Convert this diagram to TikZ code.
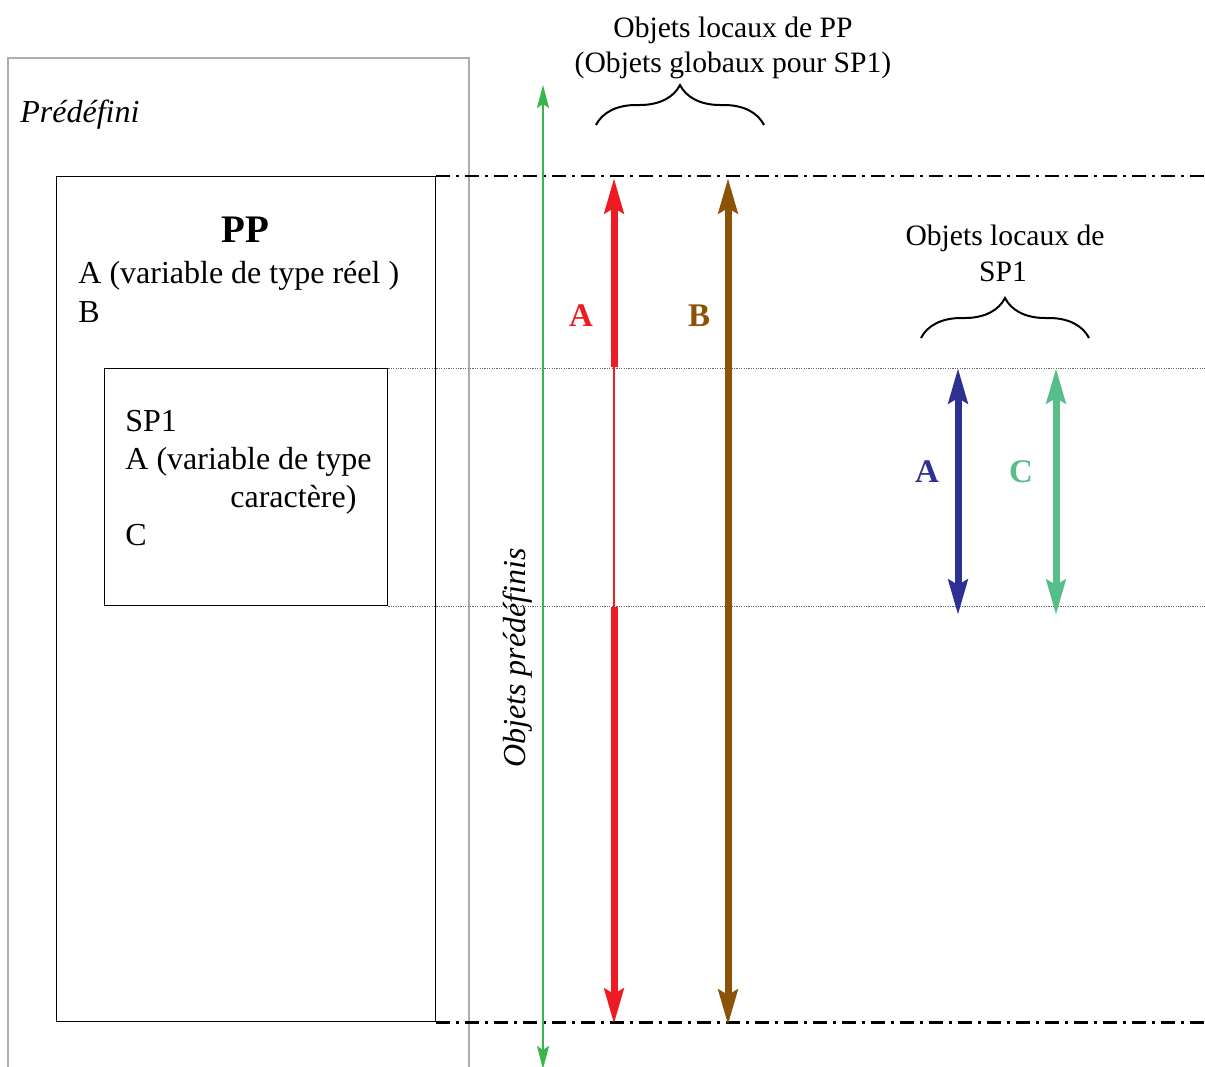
\documentclass[tikz,border=0pt]{standalone}
\usepackage{fontspec}
\setmainfont{Liberation Serif}
\usepackage{xcolor}
\usetikzlibrary{arrows.meta,positioning,calc,decorations.pathreplacing}
\definecolor{predgreen}{RGB}{57,181,74}
\definecolor{ppred}{RGB}{237,28,36}
\definecolor{ppbrown}{RGB}{139,82,8}
\definecolor{spblue}{RGB}{46,49,146}
\definecolor{spgreen}{RGB}{88,190,137}
\newcommand{\txtsize}{\fontsize{16}{19}\selectfont}
\newcommand{\capsize}{\fontsize{14.8}{18}\selectfont}
\newcommand{\lblsize}{\fontsize{16.5}{20}\selectfont}

\begin{document}
\begin{tikzpicture}[
  x=0.5pt, y=-0.5pt,
  predef/.style={draw=black!32, line width=0.8pt},
  box/.style={draw, line width=0.7pt, inner sep=0pt, anchor=north west},
  txt/.style={anchor=base west, inner sep=0pt, font=\txtsize},
  captxt/.style={anchor=base, inner sep=0pt, font=\capsize},
  lbl/.style={inner sep=0pt, font=\lblsize\bfseries},
  scopeline/.style={line width=1.4pt, dash pattern=on 7pt off 3pt on 1.5pt off 3pt},
  limit/.style={draw=black!60, line width=0.5pt, dash pattern=on 0.6pt off 0.6pt},
  brc/.style={decorate, decoration={brace, amplitude=20pt}, line width=1pt},
  objtip/.tip={Stealth[length=17.5pt, width=9.5pt, inset=2.5pt]},
  objarr/.style={line width=3.5pt, -objtip},
  objboth/.style={line width=3.5pt, objtip-objtip},
  predarr/.style={predgreen, line width=1pt,
    {Stealth[length=11.5pt, width=6pt, inset=2pt]}-{Stealth[length=11.5pt, width=6pt, inset=2pt]}}
]
\useasboundingbox (0,0) rectangle (1205,1066);

% predefined area
\draw[predef] (8,1075) |- (469,58) -- (469,1075);
\node[txt, font=\txtsize\itshape] (predtitle) at (20,122) {Prédéfini};

% program boxes
\node[box, minimum width=189.5pt, minimum height=422.5pt] (pp) at (56,176) {};
\node[box, minimum width=141.5pt, minimum height=118.5pt] (sp1) at (104,368) {};

\node[inner sep=0pt, font=\fontsize{19.5}{23}\selectfont\bfseries] (ppname) at (245,230) {PP};
\node[txt] (ppa) at (78,283) {A (variable de type réel )};
\node[txt] (ppb) at (78,322) {B};

\node[txt] (spname) at (125,431) {SP1};
\node[txt] (spa) at (125,469) {A (variable de type};
\node[txt] (spa2) at (230,507) {caractère)};
\node[txt] (spc) at (125,545) {C};

% limits
\coordinate (edge) at (1205,0);
\draw[scopeline] (pp.north east) -- (pp.north east -| edge);
\draw[scopeline] (pp.south east) -- (pp.south east -| edge);
\draw[limit] (sp1.north east) -- (sp1.north east -| edge);
\draw[limit] (sp1.south east) -- (sp1.south east -| edge);

% predefined objects
\coordinate (gtop) at (543,85);
\coordinate (gbot) at (543,1069);
\draw[predarr] (gbot) -- (gtop);
\node[rotate=90, inner sep=0pt, font=\txtsize\itshape] (predlbl) at (518,658) {Objets prédéfinis};

% local objects of PP
\coordinate (atop) at (614,178);
\coordinate (amid1) at (614,367);
\coordinate (amid2) at (614,607);
\coordinate (abot) at (614,1024);
\draw[objarr, ppred] (amid1) -- (atop);
\draw[ppred, line width=1.3pt] (amid1) -- (amid2);
\draw[objarr, ppred] (amid2) -- (abot);
\node[lbl, ppred] (la) at (581,316) {A};

\coordinate (btop) at (728,178);
\coordinate (bbot) at (728,1025);
\draw[objboth, ppbrown] (bbot) -- (btop);
\node[lbl, ppbrown] (lb) at (699,316) {B};

\coordinate (gbl) at (596,125);
\coordinate (gbr) at (764,125);
\draw[brc] (gbl) -- (gbr);
\node[captxt] (glob1) at (733,37) {Objets locaux de PP};
\node[captxt] (glob2) at (733,72) {(Objets globaux pour SP1)};

% local objects of SP1
\coordinate (ctop) at (958,368);
\coordinate (cbot) at (958,615);
\draw[objboth, spblue] (cbot) -- (ctop);
\node[lbl, spblue] (lc) at (927,472) {A};

\coordinate (dtop) at (1056,368);
\coordinate (dbot) at (1056,615);
\draw[objboth, spgreen] (dbot) -- (dtop);
\node[lbl, spgreen] (ld) at (1021,472) {C};

\coordinate (lbl1) at (921,338);
\coordinate (lbr1) at (1089,338);
\draw[brc] (lbl1) -- (lbr1);
\node[captxt] (loc1) at (1005,245) {Objets locaux de};
\node[captxt] (loc2) at (1003,281) {SP1};
\end{tikzpicture}
\end{document}
